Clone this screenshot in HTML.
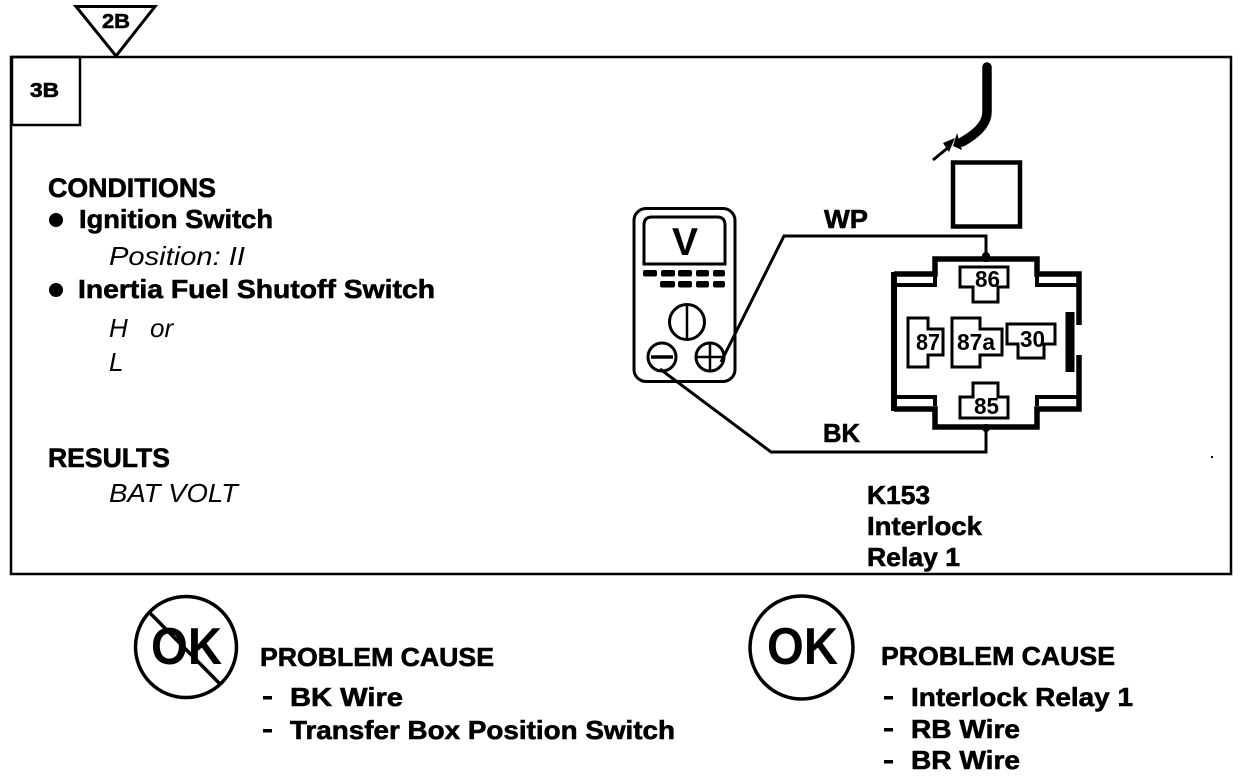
<!DOCTYPE html>
<html>
<head>
<meta charset="utf-8">
<style>
html,body{margin:0;padding:0;background:#fff;width:1248px;height:778px;overflow:hidden}
svg{display:block}
text{font-family:"Liberation Sans",sans-serif;fill:#000}
.b{font-weight:bold;font-size:26px;stroke:#000;stroke-width:.6px}
.i{font-style:italic;font-size:26px}
.n{font-weight:bold;font-size:23px}
.l{fill:none;stroke:#000;stroke-linejoin:miter}
</style>
</head>
<body>
<svg width="1248" height="778" viewBox="0 0 1248 778" xmlns="http://www.w3.org/2000/svg">
<!-- frame -->
<rect class="l" x="11" y="57" width="1220" height="517" stroke-width="2.5"/>
<rect class="l" x="12" y="57" width="68" height="68" stroke-width="2.5"/>
<path class="l" d="M76,6.500H155L116,56Z" stroke-width="3"/>
<text class="b" x="102" y="28" style="font-size:20px" textLength="28" lengthAdjust="spacingAndGlyphs">2B</text>
<text class="b" x="30" y="97" style="font-size:20px" textLength="29" lengthAdjust="spacingAndGlyphs">3B</text>

<!-- left text -->
<text class="b" x="48" y="197" style="font-size:27px" textLength="168" lengthAdjust="spacingAndGlyphs">CONDITIONS</text>
<circle cx="56" cy="220" r="7"/>
<text class="b" x="79" y="228" textLength="194" lengthAdjust="spacingAndGlyphs">Ignition Switch</text>
<text class="i" x="109" y="265" textLength="136" lengthAdjust="spacingAndGlyphs">Position: II</text>
<circle cx="56" cy="290" r="7"/>
<text class="b" x="78" y="298" textLength="357" lengthAdjust="spacingAndGlyphs">Inertia Fuel Shutoff Switch</text>
<text class="i" x="109" y="337">H</text>
<text class="i" x="150" y="337">or</text>
<text class="i" x="109" y="371">L</text>
<text class="b" x="48" y="467" style="font-size:27px" textLength="122" lengthAdjust="spacingAndGlyphs">RESULTS</text>
<text class="i" x="109" y="502" textLength="129" lengthAdjust="spacingAndGlyphs">BAT VOLT</text>

<!-- meter -->
<rect class="l" x="634" y="208.500" width="101" height="173" rx="12" stroke-width="3"/>
<path class="l" d="M644,264V225Q644,217 652,217H717Q725,217 725,225V264Z" stroke-width="3"/>
<text x="685" y="255" text-anchor="middle" style="font-weight:bold;font-size:39px">V</text>
<g fill="#000">
<rect x="643" y="270" width="14" height="6.500" rx="2"/><rect x="661" y="270" width="14" height="6.500" rx="2"/><rect x="678" y="270" width="14" height="6.500" rx="2"/><rect x="696" y="270" width="13" height="6.500" rx="2"/><rect x="713" y="270" width="12" height="6.500" rx="2"/>
<rect x="660" y="281" width="15" height="6.500" rx="2"/><rect x="678" y="281" width="14" height="6.500" rx="2"/><rect x="696" y="281" width="13" height="6.500" rx="2"/><rect x="713" y="281" width="12" height="6.500" rx="2"/>
</g>
<circle class="l" cx="687" cy="322" r="17.500" stroke-width="3"/>
<path class="l" d="M687,304V340" stroke-width="2.500"/>
<circle class="l" cx="662" cy="357" r="14" fill="#fff" stroke-width="3"/>
<path class="l" d="M651,357H673" stroke-width="3.500"/>
<circle class="l" cx="710" cy="357" r="14" fill="#fff" stroke-width="3"/>
<path class="l" d="M696,357H724M710,343V371" stroke-width="2.500"/>

<!-- wires -->
<path class="l" d="M721,362L784,236H986V262" stroke-width="3"/>
<path class="l" d="M660,369L771,452H986V424" stroke-width="3"/>
<text class="b" x="824" y="228" textLength="44" lengthAdjust="spacingAndGlyphs">WP</text>
<text class="b" x="823" y="442" textLength="37" lengthAdjust="spacingAndGlyphs">BK</text>
<circle cx="986" cy="256" r="4"/>
<circle cx="986" cy="428" r="4"/>

<!-- cable and arrow -->
<path class="l" d="M987,67V112Q987,128 962,142" stroke-width="9.500" stroke-linecap="round"/>
<path d="M957,133L962,150L953,146Z"/>
<path class="l" d="M933,160L950,146" stroke-width="3"/>
<path d="M955,138L943,143L949,152Z"/>

<!-- square -->
<rect class="l" x="953" y="162.500" width="67" height="64" stroke-width="4.500"/>

<!-- relay housing -->
<path class="l" d="M894,274H935V259H1037V274H1079V325" stroke-width="5.500"/>
<path class="l" d="M894,285H935V274M1037,274V285H1079" stroke-width="4"/>
<path class="l" d="M894,272V411" stroke-width="6"/>
<path class="l" d="M894,397H935V406M1037,406V397H1079" stroke-width="4"/>
<path class="l" d="M894,409H935V427H1037V409H1079V355" stroke-width="5.500"/>
<path class="l" d="M1070,312V372" stroke-width="9"/>

<!-- terminals -->
<path class="l" d="M960,267H1008V287H998V302H973V287H960Z" fill="#fff" stroke-width="3"/>
<path class="l" d="M973,383H998V397H1008V418H960V397H973Z" fill="#fff" stroke-width="3"/>
<path class="l" d="M908,318H928V329H943V355H928V367H908Z" fill="#fff" stroke-width="3"/>
<path class="l" d="M952,318H980V329H1002V355H980V367H952Z" fill="#fff" stroke-width="3"/>
<path class="l" d="M1007,324H1055V344H1044V358H1018V344H1007Z" fill="#fff" stroke-width="3"/>
<text class="n" x="975" y="287" textLength="25" lengthAdjust="spacingAndGlyphs">86</text>
<text class="n" x="974" y="414" textLength="25" lengthAdjust="spacingAndGlyphs">85</text>
<text class="n" x="916" y="350" textLength="24" lengthAdjust="spacingAndGlyphs">87</text>
<text class="n" x="957" y="350" textLength="38" lengthAdjust="spacingAndGlyphs">87a</text>
<text class="n" x="1020" y="347" textLength="25" lengthAdjust="spacingAndGlyphs">30</text>

<text class="b" x="867" y="504" textLength="63" lengthAdjust="spacingAndGlyphs">K153</text>
<text class="b" x="867" y="535" textLength="115" lengthAdjust="spacingAndGlyphs">Interlock</text>
<text class="b" x="867" y="566" textLength="93" lengthAdjust="spacingAndGlyphs">Relay 1</text>
<rect x="1211" y="456" width="2" height="2"/>

<!-- not OK -->
<circle class="l" cx="186" cy="647" r="50.500" stroke-width="3.500"/>
<text x="151" y="664" textLength="71" lengthAdjust="spacingAndGlyphs" style="font-weight:bold;font-size:52px">OK</text>
<path class="l" d="M150,613L220,684" stroke-width="3.500"/>
<text class="b" x="260" y="666" textLength="234" lengthAdjust="spacingAndGlyphs">PROBLEM CAUSE</text>
<rect x="263" y="696" width="9" height="3.500"/>
<text class="b" x="290" y="706" textLength="113" lengthAdjust="spacingAndGlyphs">BK  Wire</text>
<rect x="263" y="729" width="9" height="3.500"/>
<text class="b" x="290" y="739" textLength="385" lengthAdjust="spacingAndGlyphs">Transfer Box Position Switch</text>

<!-- OK -->
<circle class="l" cx="801.500" cy="647.500" r="51.500" stroke-width="3.500"/>
<text x="767" y="664" textLength="71" lengthAdjust="spacingAndGlyphs" style="font-weight:bold;font-size:52px">OK</text>
<text class="b" x="881" y="665" textLength="234" lengthAdjust="spacingAndGlyphs">PROBLEM CAUSE</text>
<rect x="884" y="696" width="9" height="3.500"/>
<text class="b" x="911" y="706" textLength="222" lengthAdjust="spacingAndGlyphs">Interlock Relay 1</text>
<rect x="884" y="728" width="9" height="3.500"/>
<text class="b" x="911" y="738" textLength="109" lengthAdjust="spacingAndGlyphs">RB Wire</text>
<rect x="884" y="760" width="9" height="3.500"/>
<text class="b" x="911" y="769" textLength="109" lengthAdjust="spacingAndGlyphs">BR Wire</text>
</svg>
</body>
</html>
